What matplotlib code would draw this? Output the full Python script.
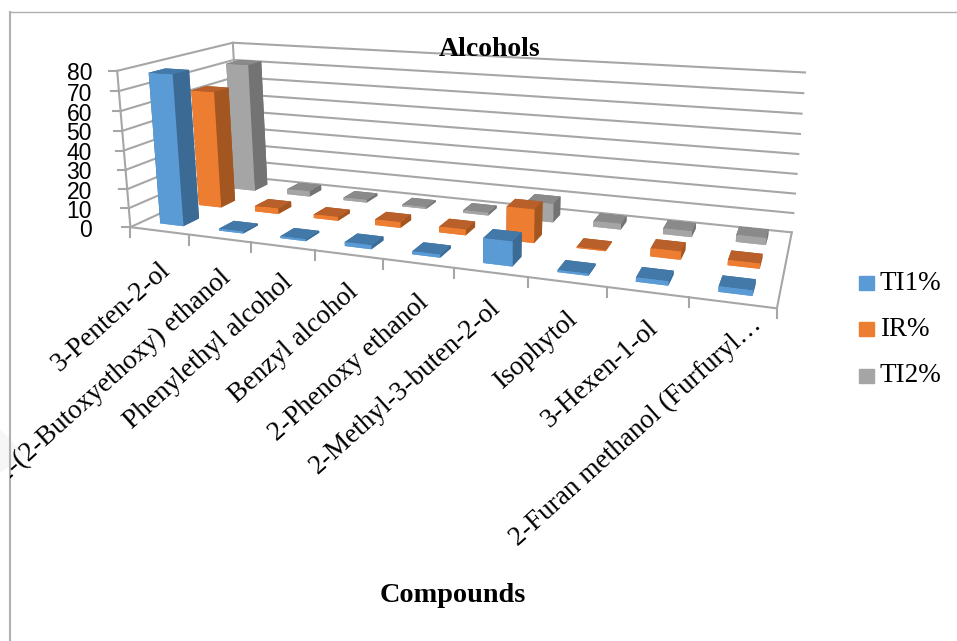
#!/usr/bin/env python3
"""
Alcohols - 3D bar chart of compounds per sample
"""

import numpy as np
import matplotlib
matplotlib.use('Agg')
import matplotlib.pyplot as plt
from matplotlib.lines import Line2D
from matplotlib.patches import Polygon, Rectangle
from matplotlib.transforms import Bbox

WIDTH, HEIGHT = 957, 641

compounds = ['3-Penten-2-ol', '2-(2-Butoxyethoxy) ethanol', 'Phenylethyl alcohol',
             'Benzyl alcohol', '2-Phenoxy ethanol', '2-Methyl-3-buten-2-ol',
             'Isophytol', '3-Hexen-1-ol', '2-Furan methanol (Furfuryl…']
series_names = ['TI1%', 'IR%', 'TI2%']
ti1 = [78, 1, 1, 2, 1.5, 12, 1, 2, 2.5]
ir = [63, 3, 2, 3, 3, 17, 0.5, 4, 2.5]
ti2 = [72, 3, 1.5, 1, 1.5, 10, 3, 3, 3.5]
z_ticks = [0, 10, 20, 30, 40, 50, 60, 70, 80]

# front, side, top shades of every series
shades = {'TI1%': ('#5b9bd5', '#3b6a94', '#4379a8'),
          'IR%': ('#ed7d31', '#a3561f', '#b9602a'),
          'TI2%': ('#a5a5a5', '#737373', '#8a8a8a')}
GRID = '#a6a6a6'
SERIF = 'Liberation Serif'

# world point -> pixel pairs that fix the camera of the scene
cam_world = [(0, 0, 0), (5, 0, 0), (9, 0, 0), (9, 3, 0), (0, 3, 0),
             (0, 0, 80), (0, 3, 80), (9, 3, 80)]
cam_px = [(131, 228), (453, 268), (777, 308), (792, 232), (240, 176),
          (117, 70), (233, 43), (805, 73)]

# pixel where each slanted category label ends
label_end = [(165, 265), (225, 273), (287, 278), (353, 287), (423, 298),
             (495, 303), (572, 315), (652, 323), (756, 320)]


def fit_camera(world, pixels):
    """Least squares 3x4 projection from point pairs"""
    rows, rhs = [], []
    for (X, Y, Z), (u, v) in zip(world, pixels):
        v = HEIGHT - v
        rows.append([X, Y, Z, 1, 0, 0, 0, 0, -u * X, -u * Y, -u * Z])
        rhs.append(u)
        rows.append([0, 0, 0, 0, X, Y, Z, 1, -v * X, -v * Y, -v * Z])
        rhs.append(v)
    h = np.linalg.lstsq(np.array(rows, float), np.array(rhs, float), rcond=None)[0]
    return np.append(h, 1).reshape(3, 4)


def to_px(x, y, z):
    u, v, w = H @ np.array([x, y, z, 1.0])
    return u / w, HEIGHT - v / w


def fig_line(p0, p1, **kw):
    fig.add_artist(Line2D([p0[0] / WIDTH, p1[0] / WIDTH],
                          [1 - p0[1] / HEIGHT, 1 - p1[1] / HEIGHT],
                          transform=fig.transFigure, **kw))


def fig_text(px, py, s, **kw):
    return fig.text(px / WIDTH, 1 - py / HEIGHT, s, **kw)


H = fit_camera(cam_world, cam_px)

fig = plt.figure(figsize=(WIDTH / 100, HEIGHT / 100), dpi=100)
fig.add_artist(Polygon([(0, 1 - 430 / HEIGHT), (24 / WIDTH, 1 - 455 / HEIGHT),
                        (0, 1 - 472 / HEIGHT)],
                       transform=fig.transFigure, color='#f6f6f6', zorder=-1))

# square axes covering the whole figure, so pixels map linearly onto it
side = WIDTH / HEIGHT
ax = fig.add_axes([0, (1 - side) / 2, 1, side], projection='3d')
ax.set_axis_off()
ax.patch.set_alpha(0)
ax.apply_aspect()
ax.computed_zorder = False

A = ax.transData.inverted().get_matrix()
M = np.zeros((4, 4))
M[:2] = A[:2, :2] @ H[:2] + A[:2, 2:] @ H[2:]
M[2] = [0, 0, 0, -1]  # depth: -1/w grows away from the viewer
M[3] = H[2]
ax.get_proj = lambda: M

# back wall, left wall and floor
for z in z_ticks:
    ax.plot([0, 0, 9], [0, 3, 3], [z, z, z], color=GRID, lw=1.5, zorder=1)
ax.plot([0, 0], [3, 3], [0, 80], color=GRID, lw=1.5, zorder=1)
ax.plot([0, 0], [0, 0], [0, 80], color=GRID, lw=1.5, zorder=1)
ax.plot([0, 9, 9], [0, 0, 3], [0, 0, 0], color=GRID, lw=1.5, zorder=1)

# bars, back row first so nearer rows cover it
bar_w = 0.4
order = 2
for row, (name, values) in reversed(list(enumerate(zip(series_names, [ti1, ir, ti2])))):
    front, right, top = shades[name]
    for i, val in enumerate(values):
        ax.bar3d(i + 0.5 - bar_w / 2, row + 0.5 - bar_w / 2, 0, bar_w, bar_w, val,
                 color=[front, top, front, right, right, right], shade=False,
                 edgecolor='none', linewidth=0, zorder=order)
        order += 1

# value axis
for z in z_ticks:
    x0, y0 = to_px(0, 0, z)
    fig_line((x0 - 8, y0), (x0, y0), color=GRID, lw=1.5)
    fig_text(92, y0 + 3, str(z), ha='right', va='center', fontsize=16.5,
             family='Liberation Sans', color='black')

# category axis
for i in range(len(compounds) + 1):
    x0, y0 = to_px(i, 0, 0)
    fig_line((x0, y0), (x0, y0 + 10), color=GRID, lw=1.5)

clip = Bbox([[10, 0], [WIDTH, HEIGHT]])
for label, (ex, ey) in zip(compounds, label_end):
    t = fig_text(ex - 6, ey - 8, label, ha='right', va='top', rotation=42,
                 rotation_mode='anchor', fontsize=19.6, family=SERIF, color='black')
    t.set_clip_box(clip)
    t.set_clip_on(True)

fig_text(490, 50, 'Alcohols', ha='center', va='center', fontsize=20,
         fontweight='bold', family=SERIF)
fig_text(453, 595, 'Compounds', ha='center', va='center', fontsize=20.3,
         fontweight='bold', family=SERIF)

# legend
for name, ly in zip(series_names, [283, 329, 376]):
    fig.add_artist(Rectangle((859 / WIDTH, 1 - (ly + 7) / HEIGHT), 15 / WIDTH, 14 / HEIGHT,
                             transform=fig.transFigure, color=shades[name][0]))
    fig_text(880, ly, name, ha='left', va='center', fontsize=19.5, family=SERIF)

# outer frame
fig_line((10, 12), (WIDTH, 12), color='#b0b0b0', lw=1)
fig_line((10, 12), (10, HEIGHT), color='#b0b0b0', lw=1.5)

fig.savefig('out.png', dpi=100)
